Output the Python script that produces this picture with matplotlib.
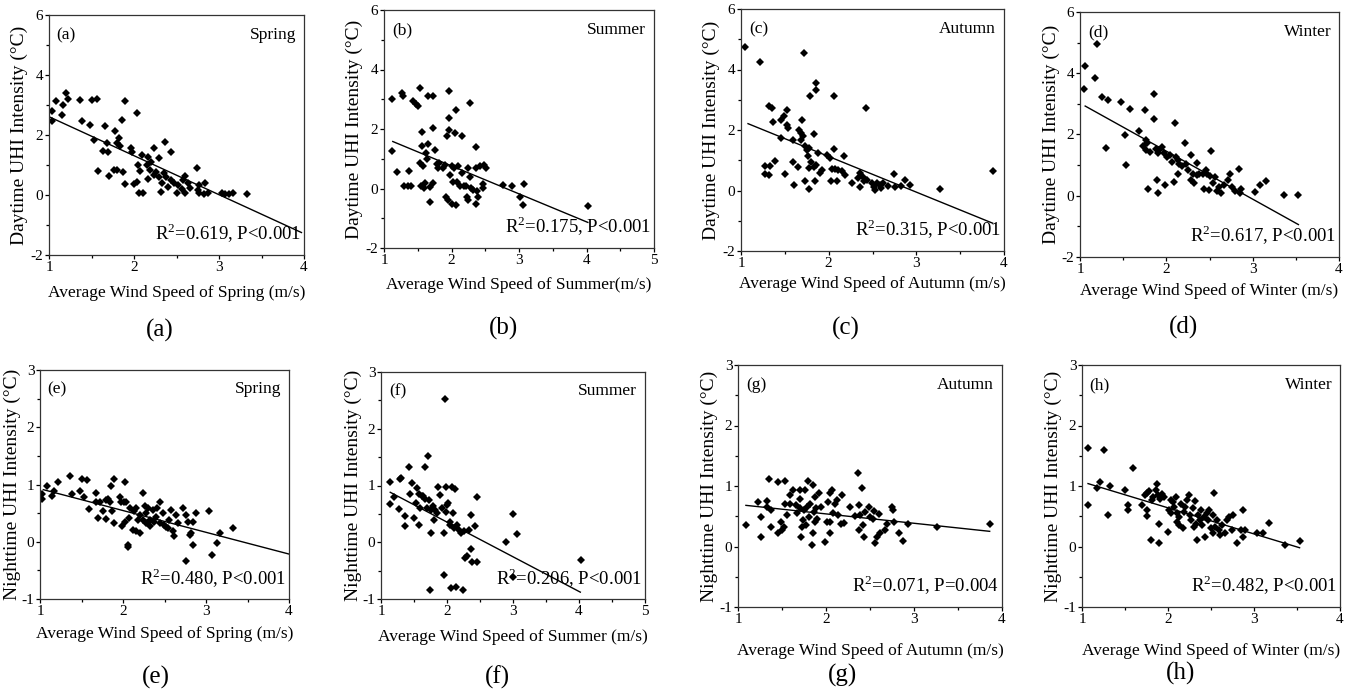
import numpy as np
import matplotlib
matplotlib.use("Agg")
import matplotlib.pyplot as plt
from matplotlib.ticker import MultipleLocator

plt.rcParams['font.family'] = ['Liberation Serif', 'DejaVu Serif']
plt.rcParams['mathtext.fontset'] = 'custom'
plt.rcParams['mathtext.rm'] = 'Liberation Serif'
plt.rcParams['axes.unicode_minus'] = False

# ---------------- data ----------------
a_x = [1.04,1.04,1.08,1.15,1.16,1.2,1.22,1.36,1.39,1.48,1.5,1.56,1.53,1.58,1.63,1.66,1.68,1.69,1.7,1.77,1.78,1.8,1.8,1.82,1.83,1.86,1.87,1.89,1.89,1.96,1.98,2.0,2.03,2.03,2.05,2.07,2.06,2.09,2.11,2.15,2.17,2.17,2.19,2.2,2.23,2.23,2.26,2.3,2.3,2.32,2.33,2.35,2.36,2.38,2.4,2.43,2.44,2.47,2.5,2.52,2.56,2.58,2.6,2.6,2.64,2.66,2.74,2.75,2.77,2.77,2.82,2.84,2.87,3.04,3.07,3.12,3.16,3.33]
a_y = [2.48,2.8,3.14,2.66,3.0,3.39,3.2,3.17,2.48,2.33,3.17,3.2,1.83,0.81,1.48,2.3,1.73,1.44,0.63,0.83,2.14,0.83,1.73,1.89,1.63,2.49,0.78,3.14,0.36,1.56,1.42,0.36,0.44,2.72,1.0,0.8,0.08,1.33,0.06,1.0,1.28,0.52,0.83,1.11,1.58,0.67,0.78,1.22,0.61,0.11,0.41,0.72,1.78,0.61,0.28,1.44,0.5,0.41,0.06,0.33,0.19,0.5,0.06,0.64,0.39,0.22,0.89,0.17,0.33,0.06,0.03,0.39,0.06,0.08,0.03,0.03,0.06,0.03]

b_x = [1.12,1.12,1.19,1.26,1.28,1.3,1.36,1.37,1.4,1.43,1.47,1.5,1.53,1.53,1.55,1.56,1.57,1.58,1.59,1.6,1.62,1.64,1.65,1.65,1.68,1.68,1.72,1.73,1.73,1.75,1.78,1.8,1.82,1.87,1.9,1.92,1.94,1.95,1.96,1.96,1.97,1.98,2.0,2.0,2.02,2.04,2.05,2.06,2.07,2.08,2.1,2.12,2.15,2.16,2.19,2.22,2.23,2.24,2.24,2.27,2.28,2.29,2.32,2.36,2.36,2.37,2.38,2.39,2.42,2.46,2.47,2.48,2.51,2.76,2.89,3.01,3.06,3.07,4.02]
b_y = [3.0,1.26,0.54,3.2,3.11,0.09,0.09,0.6,0.09,2.95,2.84,2.77,3.37,0.85,0.09,1.91,1.43,0.74,0.01,0.18,1.19,0.98,3.11,1.5,0.04,-0.47,2.03,3.11,0.2,1.3,0.83,0.68,0.85,0.68,0.79,-0.27,1.75,-0.38,2.36,3.29,1.97,0.46,-0.51,0.74,0.23,0.68,1.88,2.64,-0.55,0.23,0.74,0.09,0.51,1.77,0.09,0.09,-0.27,-0.38,0.68,0.4,2.89,0.01,-0.04,1.39,-0.51,0.68,-0.1,-0.27,0.76,0.01,0.16,0.79,0.68,0.12,0.07,-0.29,-0.55,0.16,-0.58]

c_x = [1.05,1.22,1.32,1.35,1.37,1.27,1.27,1.32,1.33,1.39,1.46,1.46,1.49,1.5,1.53,1.53,1.54,1.59,1.59,1.6,1.65,1.66,1.68,1.69,1.7,1.71,1.72,1.73,1.73,1.75,1.76,1.77,1.77,1.78,1.79,1.8,1.83,1.83,1.84,1.85,1.86,1.86,1.88,1.9,1.92,1.98,2.01,2.03,2.04,2.06,2.06,2.07,2.1,2.11,2.15,2.18,2.19,2.27,2.34,2.36,2.36,2.39,2.4,2.43,2.44,2.49,2.52,2.53,2.55,2.58,2.6,2.62,2.68,2.75,2.76,2.83,2.87,2.93,3.27,3.87]
c_y = [4.73,4.26,2.8,2.73,2.25,0.82,0.55,0.52,0.82,0.96,1.73,2.32,2.45,0.55,2.67,2.17,2.06,1.68,0.93,0.17,0.77,2.01,1.9,1.68,2.34,1.81,4.55,0.3,1.46,1.35,1.15,0.74,0.04,1.41,3.11,0.93,1.88,0.79,0.3,3.33,3.55,0.85,1.24,0.57,0.68,1.18,1.07,0.33,0.71,3.11,1.37,0.71,0.33,0.68,0.63,1.13,0.52,0.26,0.41,0.57,0.13,0.46,0.3,2.73,0.35,0.24,0.11,0.02,0.26,0.19,0.08,0.26,0.15,0.55,0.13,0.15,0.35,0.19,0.04,0.65]

d_x = [1.06,1.05,1.17,1.2,1.26,1.3,1.32,1.48,1.52,1.53,1.58,1.68,1.73,1.75,1.76,1.77,1.78,1.79,1.81,1.86,1.86,1.88,1.89,1.9,1.9,1.92,1.95,1.97,1.99,2.01,2.04,2.07,2.09,2.1,2.11,2.13,2.14,2.15,2.18,2.22,2.23,2.25,2.28,2.29,2.31,2.32,2.35,2.36,2.38,2.42,2.44,2.46,2.47,2.49,2.51,2.52,2.54,2.56,2.59,2.61,2.63,2.67,2.71,2.74,2.76,2.8,2.84,2.85,2.87,3.03,3.09,3.15,3.36,3.53]
d_y = [4.24,3.5,3.83,4.95,3.23,1.56,3.14,3.07,1.98,1.02,2.82,2.11,1.62,2.79,1.48,1.83,1.72,0.23,1.43,2.52,3.31,1.54,0.5,0.09,1.38,1.48,1.59,1.38,0.34,1.27,1.32,1.1,0.45,2.38,1.27,0.72,1.18,1.05,0.96,1.72,1.05,0.83,0.5,1.32,0.7,0.41,0.67,1.07,0.72,0.7,0.23,0.83,0.72,0.2,0.63,1.46,0.41,0.61,0.17,0.28,0.09,0.34,0.5,0.72,0.28,0.17,0.88,0.09,0.23,0.12,0.34,0.48,0.04,0.04]

e_x = [1.03,1.03,1.08,1.15,1.17,1.22,1.36,1.39,1.48,1.5,1.53,1.57,1.59,1.68,1.68,1.7,1.72,1.76,1.79,1.8,1.82,1.84,1.86,1.87,1.89,1.89,1.96,1.97,1.99,2.01,2.02,2.03,2.04,2.06,2.06,2.07,2.09,2.12,2.13,2.16,2.16,2.18,2.2,2.2,2.24,2.24,2.26,2.28,2.28,2.3,2.32,2.33,2.36,2.37,2.4,2.41,2.44,2.45,2.48,2.49,2.52,2.54,2.56,2.58,2.6,2.61,2.64,2.66,2.72,2.76,2.76,2.78,2.81,2.82,2.84,2.84,2.88,3.04,3.07,3.13,3.17,3.33]
e_y = [0.83,0.74,0.97,0.8,0.88,1.04,1.14,0.84,0.88,1.1,0.79,1.08,0.57,0.85,0.69,0.42,0.69,0.54,0.73,0.4,0.74,0.69,0.97,0.53,1.09,0.33,0.79,0.7,0.28,0.69,1.05,0.34,0.69,-0.05,-0.09,0.41,0.59,0.2,0.53,0.59,0.18,0.38,0.15,0.47,0.85,0.38,0.62,0.5,0.33,0.59,0.38,0.28,0.56,0.35,0.44,0.59,0.69,0.33,0.51,0.3,0.26,0.24,0.38,0.56,0.18,0.1,0.46,0.33,0.59,0.47,-0.33,0.35,0.12,0.16,0.34,-0.05,0.5,0.53,-0.24,-0.02,0.15,0.24]

f_x = [1.14,1.14,1.2,1.27,1.29,1.31,1.37,1.37,1.43,1.44,1.47,1.5,1.53,1.55,1.57,1.58,1.59,1.62,1.64,1.66,1.67,1.7,1.71,1.72,1.74,1.75,1.76,1.79,1.81,1.82,1.85,1.86,1.9,1.92,1.95,1.96,1.97,1.98,1.99,2.0,2.02,2.04,2.05,2.06,2.07,2.09,2.11,2.12,2.14,2.15,2.18,2.21,2.24,2.26,2.28,2.3,2.33,2.37,2.37,2.38,2.43,2.45,2.46,2.89,3.0,3.06,4.03,3.0]
f_y = [1.07,0.67,0.79,0.59,1.12,1.13,0.46,0.28,1.32,0.85,1.04,0.42,0.69,0.95,0.85,0.31,0.6,0.82,0.81,0.76,1.32,0.6,1.52,0.75,-0.84,0.57,0.16,0.63,0.39,0.57,0.51,0.98,0.84,0.6,0.16,-0.58,2.52,0.98,0.54,0.66,0.69,0.31,0.36,-0.81,0.98,0.51,0.25,0.94,-0.78,0.31,0.22,0.16,-0.85,0.19,-0.28,-0.24,0.22,0.48,-0.12,-0.34,0.28,-0.34,0.79,0.0,0.5,0.14,-0.32,-0.62]

g_x = [1.09,1.23,1.26,1.26,1.33,1.33,1.35,1.37,1.38,1.46,1.46,1.49,1.5,1.52,1.53,1.53,1.56,1.59,1.59,1.63,1.66,1.67,1.7,1.7,1.71,1.72,1.73,1.74,1.75,1.76,1.77,1.78,1.8,1.81,1.82,1.84,1.85,1.85,1.86,1.87,1.88,1.89,1.9,1.92,1.94,1.99,2.01,2.02,2.04,2.04,2.05,2.07,2.08,2.1,2.12,2.14,2.17,2.18,2.2,2.27,2.33,2.36,2.37,2.38,2.39,2.41,2.42,2.43,2.44,2.49,2.5,2.53,2.54,2.56,2.58,2.6,2.61,2.67,2.69,2.75,2.76,2.77,2.83,2.87,2.93,3.26,3.86]
g_y = [0.36,0.73,0.49,0.16,0.75,0.66,1.11,0.6,0.33,1.07,0.23,0.41,0.28,0.33,1.09,0.71,0.52,0.85,0.71,0.93,0.68,0.55,0.94,0.79,0.63,0.16,0.33,0.44,0.6,0.94,0.35,0.66,1.09,0.49,0.71,0.02,0.23,1.02,0.57,0.41,0.82,0.63,0.46,0.88,0.66,0.08,0.41,0.74,0.23,0.41,0.88,0.94,0.55,0.71,0.77,0.52,0.38,0.85,0.39,0.66,0.5,1.22,0.68,0.27,0.52,0.97,0.35,0.16,0.57,0.66,0.49,0.46,0.59,0.05,0.16,0.53,0.23,0.28,0.38,0.66,0.6,0.41,0.23,0.09,0.38,0.33,0.38]

h_x = [1.07,1.07,1.17,1.21,1.26,1.3,1.33,1.5,1.54,1.54,1.59,1.7,1.73,1.75,1.76,1.76,1.78,1.8,1.81,1.82,1.86,1.87,1.88,1.89,1.9,1.91,1.93,1.95,2.0,2.01,2.03,2.04,2.06,2.07,2.09,2.1,2.11,2.13,2.13,2.15,2.17,2.19,2.2,2.22,2.24,2.25,2.27,2.29,2.3,2.31,2.32,2.34,2.35,2.37,2.38,2.4,2.42,2.43,2.45,2.46,2.48,2.5,2.52,2.52,2.54,2.55,2.57,2.59,2.61,2.63,2.66,2.69,2.71,2.74,2.75,2.8,2.85,2.87,2.87,2.9,3.03,3.1,3.17,3.36,3.53]
h_y = [1.62,0.68,0.96,1.07,1.59,0.52,1.0,0.93,0.68,0.6,1.29,0.68,0.85,0.88,0.6,0.5,0.91,0.1,0.77,0.82,0.94,1.03,0.85,0.37,0.06,0.78,0.87,0.82,0.24,0.6,0.55,0.77,0.74,0.66,0.82,0.41,0.55,0.35,0.49,0.71,0.3,0.57,0.66,0.77,0.85,0.52,0.44,0.63,0.33,0.76,0.38,0.1,0.52,0.44,0.61,0.35,0.49,0.16,0.55,0.44,0.6,0.3,0.23,0.52,0.89,0.33,0.44,0.27,0.19,0.35,0.23,0.44,0.49,0.28,0.52,0.06,0.27,0.61,0.15,0.28,0.23,0.23,0.39,0.02,0.09]

# regression lines: slope, intercept, x-range
fit_slope = [-1.30, -0.941, -1.179, -1.567, -0.38, -0.611, -0.155, -0.431]
fit_intercept = [3.91, 2.643, 3.483, 4.59, 1.305, 1.577, 0.849, 1.501]
fit_xmin = [1.0, 1.13, 1.08, 1.06, 1.04, 1.14, 1.09, 1.07]
fit_xmax = [3.97, 4.02, 3.87, 3.53, 4.0, 4.02, 3.86, 3.53]

panel_tags = ['(a)', '(b)', '(c)', '(d)', '(e)', '(f)', '(g)', '(h)']
seasons = ['Spring', 'Summer', 'Autumn', 'Winter'] * 2
stats = ['R$^{2}$=0.619, P<0.001', 'R$^{2}$=0.175, P<0.001', 'R$^{2}$=0.315, P<0.001',
         'R$^{2}$=0.617, P<0.001', 'R$^{2}$=0.480, P<0.001', 'R$^{2}$=0.206, P<0.001',
         'R$^{2}$=0.071, P=0.004', 'R$^{2}$=0.482, P<0.001']
xlabels = ['Average Wind Speed of Spring (m/s)', 'Average Wind Speed of Summer(m/s)',
           'Average Wind Speed of Autumn (m/s)', 'Average Wind Speed of Winter (m/s)',
           'Average Wind Speed of Spring (m/s)', 'Average Wind Speed of Summer (m/s)',
           'Average Wind Speed of Autumn (m/s)', 'Average Wind Speed of Winter (m/s)']
ylabels = ['Daytime UHI Intensity (°C)'] * 4 + ['Nighttime UHI Intensity (°C)'] * 4
xlims = [(1, 4), (1, 5), (1, 4), (1, 4), (1, 4), (1, 5), (1, 4), (1, 4)]
ylims = [(-2, 6)] * 4 + [(-1, 3)] * 4

xs = [a_x, b_x, c_x, d_x, e_x, f_x, g_x, h_x]
ys = [a_y, b_y, c_y, d_y, e_y, f_y, g_y, h_y]

# ---------------- layout ----------------
W, H = 1349, 697
boxes_px = [(49, 15, 304, 255), (384, 10, 654, 248), (741, 9, 1004, 251), (1080, 12, 1339, 257),
            (40, 370, 289, 599), (381, 372, 645, 599), (738, 365, 1002, 607), (1082, 365, 1340, 607)]
caption_px = [(160, 330), (503, 328), (846, 328), (1184, 327),
              (156, 677), (497, 677), (843, 675), (1181, 673)]
ylabel_off = [30, 30, 30, 29, 28, 28, 29, 29]   # px left of the axes
xlabel_off = [38, 37, 33, 34, 35, 38, 44, 44]   # px below the axes

fig = plt.figure(figsize=(W / 100, H / 100), dpi=100)

for i in range(8):
    x0, y0, x1, y1 = boxes_px[i]
    wpx, hpx = x1 - x0, y1 - y0
    ax = fig.add_axes([x0 / W, 1 - y1 / H, wpx / W, hpx / H])
    ax.plot(xs[i], ys[i], linestyle='none', marker='D', markersize=4.2,
            color='black', markeredgewidth=0)
    lx = np.array([fit_xmin[i], fit_xmax[i]])
    ax.plot(lx, fit_slope[i] * lx + fit_intercept[i], color='black', lw=1.0)
    ax.set_xlim(*xlims[i])
    ax.set_ylim(*ylims[i])
    ax.xaxis.set_major_locator(MultipleLocator(1))
    ax.xaxis.set_minor_locator(MultipleLocator(0.5))
    if i < 4:
        ax.yaxis.set_major_locator(MultipleLocator(2))
        ax.yaxis.set_minor_locator(MultipleLocator(1))
    else:
        ax.yaxis.set_major_locator(MultipleLocator(1))
        ax.yaxis.set_minor_locator(MultipleLocator(0.5))
    ax.tick_params(which='both', direction='out', top=False, right=False, labelsize=11,
                   pad=1, width=0.9)
    ax.tick_params(which='major', length=3)
    ax.tick_params(which='minor', length=2)
    for s in ax.spines.values():
        s.set_linewidth(0.9)
        s.set_color('#333333')
    ax.set_xlabel(xlabels[i], fontsize=12.5, va='center')
    ax.xaxis.set_label_coords(0.5, -xlabel_off[i] / hpx)
    ax.set_ylabel(ylabels[i], fontsize=14, va='center')
    ax.yaxis.set_label_coords(-ylabel_off[i] / wpx, 0.5)
    ax.text(0.03, 0.95, panel_tags[i], transform=ax.transAxes, fontsize=12.5, va='top', ha='left')
    ax.text(0.97, 0.95, seasons[i], transform=ax.transAxes, fontsize=12.5, va='top', ha='right')
    ax.text(0.99, 0.04, stats[i], transform=ax.transAxes, fontsize=13.5, va='bottom', ha='right')
    cx, cy = caption_px[i]
    fig.text(cx / W, 1 - cy / H, panel_tags[i], fontsize=18, ha='center', va='center')

fig.savefig('out.png', dpi=100)
